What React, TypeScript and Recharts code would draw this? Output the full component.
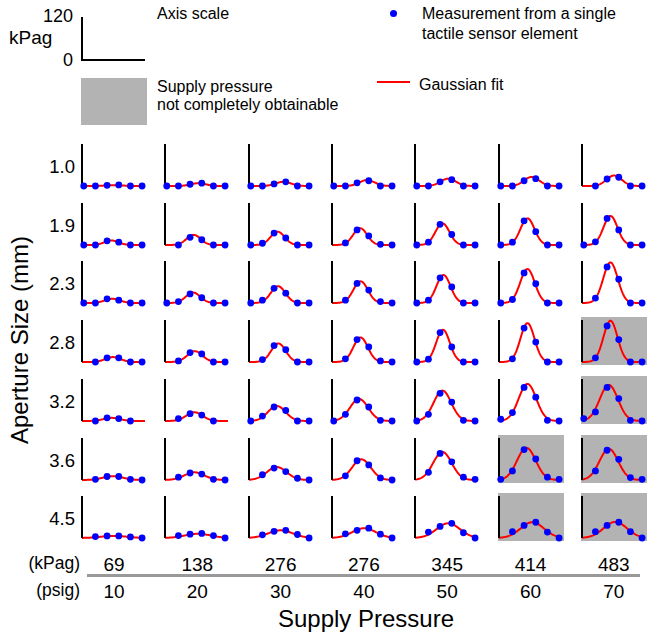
import React from 'react';
import { ComposedChart, CartesianGrid, Line, Scatter, XAxis, YAxis } from 'recharts';

const apertures = ['1.0', '1.9', '2.3', '2.8', '3.2', '3.6', '4.5'];
const kpagLabels = ['69', '138', '276', '276', '345', '414', '483'];
const psigLabels = ['10', '20', '30', '40', '50', '60', '70'];

// readings (kPag) of sensor elements 0..5, one list per supply pressure column
const ap10 = [
  [0, 0, 2, 3, 0, 0], [0, 0, 5, 8, 0, 0], [0, 0, 6, 12, 0, 0], [0, 0, 9, 15, 0, 0],
  [0, 0, 12, 18, 0, 0], [0, 0, 15, 21, 0, 0], [null, 0, 20, 25, 0, 0],
];
const ap19 = [
  [0, 0, 12, 8, 0, 0], [null, 0, 22, 15, 0, 0], [0, 5, 34, 20, 0, 0], [null, 6, 43, 26, 2, 0],
  [0, 8, 59, 30, 0, 0], [0, 8, 69, 38, 0, 0], [0, 9, 76, 43, 0, 0],
];
const ap23 = [
  [0, 0, 12, 8, 0, 0], [0, 4, 26, 15, 0, 0], [0, 8, 42, 28, 0, 0], [null, 8, 56, 37, 4, 0],
  [0, 8, 72, 46, 0, 0], [0, 10, 86, 55, 0, 0], [null, 14, 103, 68, 0, 0],
];
const ap28 = [
  [null, 0, 12, 12, 0, 0], [null, 3, 27, 23, 0, 0], [null, 7, 47, 35, 0, 0], [null, 9, 64, 43, 3, 0],
  [0, 8, 84, 43, 0, 0], [null, 9, 97, 57, 0, 0], [null, 12, 103, 64, 0, 0],
];
const ap32 = [
  [null, 0, 9, 7, 0, null], [null, 7, 21, 17, 0, null], [0, 14, 40, 30, 0, 0], [0, 19, 60, 40, 2, 0],
  [0, 19, 79, 54, 2, 0], [5, 24, 96, 68, 2, 0], [7, 26, 96, 64, 2, 0],
];
const ap36 = [
  [null, 2, 10, 10, 2, 0], [null, 8, 20, 17, 2, 0], [null, 15, 34, 24, 5, 0], [null, 12, 55, 43, 6, 0],
  [null, 22, 76, 52, 8, 2], [2, 26, 87, 60, 8, 2], [null, 26, 85, 59, 7, 2],
];
const ap45 = [
  [null, 4, 6, 6, 3, 0], [null, 7, 11, 13, 7, 0], [null, 9, 19, 22, 10, 0], [null, 12, 22, 28, 11, 0],
  [null, 17, 33, 42, 15, 0], [null, 18, 36, 45, 17, 0], [null, 18, 36, 45, 18, 0],
];
const readings = [ap10, ap19, ap23, ap28, ap32, ap36, ap45];

// gaussian fit parameters: peak (kPag), centre and width (element units)
const fitAmp = [
  [2.5, 8, 12, 17, 21, 26, 30],
  [13, 29, 38, 48, 62, 76, 83],
  [12, 30, 48, 62, 80, 97, 116],
  [14, 31, 53, 70, 92, 111, 118],
  [9, 25, 43, 63, 87, 106, 103],
  [11, 22, 37, 59, 80, 92, 89],
  [6, 12, 22, 28, 42, 45, 46],
];
const fitCenter = [
  [2.6, 2.7, 2.8, 2.85, 2.7, 2.65, 2.6],
  [2.37, 2.3, 2.3, 2.26, 2.2, 2.29, 2.29],
  [2.45, 2.25, 2.34, 2.3, 2.29, 2.29, 2.29],
  [2.5, 2.4, 2.37, 2.3, 2.25, 2.29, 2.29],
  [2.4, 2.37, 2.23, 2.17, 2.2, 2.29, 2.15],
  [2.5, 2.37, 2.23, 2.37, 2.2, 2.2, 2.15],
  [2.6, 2.66, 2.55, 2.6, 2.7, 2.7, 2.7],
];
const fitSigma = [
  [0.7, 0.65, 0.65, 0.65, 0.65, 0.65, 0.65],
  [0.6, 0.6, 0.6, 0.6, 0.6, 0.6, 0.6],
  [0.65, 0.62, 0.62, 0.62, 0.6, 0.62, 0.62],
  [0.65, 0.65, 0.62, 0.62, 0.58, 0.6, 0.6],
  [0.7, 0.7, 0.75, 0.78, 0.75, 0.75, 0.78],
  [0.85, 0.85, 0.85, 0.8, 0.8, 0.8, 0.8],
  [1.1, 1.1, 1.05, 1.0, 1.0, 1.0, 1.0],
];
// [row, col] cells where supply pressure was not completely obtainable
const greyCells = [[3, 6], [4, 6], [5, 5], [5, 6], [6, 5], [6, 6]];

const X0 = -0.15;
const X1 = 5.25;
const AXIS_X0 = 82;
const COL_STEP = 83.3;
const BASE_Y0 = 186;
const ROW_STEP = 58.7;
const FONT = '"Liberation Sans", Arial, sans-serif';

function T({ x, y, size, align = 'left', children, style }: any) {
  const tx = align === 'center' ? '-50%' : align === 'right' ? '-100%' : '0';
  return (
    <div
      style={{
        position: 'absolute', left: x, top: y, fontSize: size, lineHeight: 1,
        whiteSpace: 'nowrap', transform: `translate(${tx}, -50%)`, ...style,
      }}
    >
      {children}
    </div>
  );
}

function Dot(p: any) {
  return <circle cx={p.cx} cy={p.cy} r={3.4} fill="#0000ff" />;
}

function Cell({ pts, amp, mu, sd, axisX, baseY, grey }: any) {
  const fit = [];
  const n = 108;
  for (let k = 0; k <= n; k++) {
    const x = X0 + ((X1 - X0) * k) / n;
    fit.push({ x, y: amp * Math.exp(-((x - mu) ** 2) / (2 * sd * sd)) });
  }
  const dots = pts
    .map((v: number | null, i: number) => (v == null ? null : { x: i, y: v }))
    .filter(Boolean);
  return (
    <>
      {grey && (
        <div
          style={{
            position: 'absolute', left: axisX - 1, top: baseY - 45, width: 66, height: 48,
            background: '#b3b3b3',
          }}
        />
      )}
      <div style={{ position: 'absolute', left: axisX - 3, top: baseY - 50 }}>
        <ComposedChart width={72} height={56} data={fit} margin={{ top: 8, right: 6, bottom: 6, left: 2 }}>
          {/* zero line sits under the fit so the red curve shows along it */}
          <CartesianGrid stroke="#000" strokeWidth={2} strokeDasharray="0" vertical={false} horizontalValues={[0]} />
          <XAxis type="number" dataKey="x" domain={[X0, X1]} hide />
          <YAxis
            type="number" dataKey="y" domain={[0, 120]} width={1} tick={false} tickLine={false}
            axisLine={{ stroke: '#000', strokeWidth: 2 }}
          />
          <Scatter data={dots} dataKey="y" shape={Dot} isAnimationActive={false} />
          <Line dataKey="y" type="linear" stroke="#ff0000" strokeWidth={2} dot={false} isAnimationActive={false} />
        </ComposedChart>
      </div>
    </>
  );
}

export default function App() {
  return (
    <div style={{ position: 'relative', width: 659, height: 632, fontFamily: FONT, color: '#000', background: '#fff' }}>
      <style>{'body{margin:0}'}</style>

      {/* legend */}
      <T x={73} y={16} size={18} align="right">120</T>
      <T x={9} y={37} size={19}>kPag</T>
      <T x={73} y={60} size={18} align="right">0</T>
      <div style={{ position: 'absolute', left: 81, top: 17, width: 2, height: 44, background: '#000' }} />
      <div style={{ position: 'absolute', left: 81, top: 59, width: 64, height: 2, background: '#000' }} />
      <T x={157} y={14} size={16}>Axis scale</T>
      <div style={{ position: 'absolute', left: 389.5, top: 9.5, width: 7, height: 7, borderRadius: 3.5, background: '#0000ff' }} />
      <T x={422} y={14} size={16}>Measurement from a single</T>
      <T x={422} y={34} size={16}>tactile sensor element</T>
      <div style={{ position: 'absolute', left: 81, top: 78, width: 66, height: 47, background: '#b3b3b3' }} />
      <T x={157} y={87} size={16}>Supply pressure</T>
      <T x={157} y={105} size={16}>not completely obtainable</T>
      <div style={{ position: 'absolute', left: 377, top: 81, width: 33, height: 2, background: '#ff0000' }} />
      <T x={419} y={85} size={16}>Gaussian fit</T>

      {/* grid of small charts */}
      {apertures.map((a, r) => (
        <React.Fragment key={a}>
          <T x={75} y={BASE_Y0 + r * ROW_STEP - 19} size={18.5} align="right">{a}</T>
          {readings[r].map((pts, c) => (
            <Cell
              key={c}
              pts={pts}
              amp={fitAmp[r][c]}
              mu={fitCenter[r][c]}
              sd={fitSigma[r][c]}
              axisX={AXIS_X0 + c * COL_STEP}
              baseY={BASE_Y0 + r * ROW_STEP}
              grey={greyCells.some(([gr, gc]) => gr === r && gc === c)}
            />
          ))}
        </React.Fragment>
      ))}

      <T x={20} y={340} size={24} align="center" style={{ transform: 'translate(-50%, -50%) rotate(-90deg)' }}>
        Aperture Size (mm)
      </T>

      {/* supply pressure axis */}
      <T x={80} y={564} size={17.5} align="right">(kPag)</T>
      <T x={80} y={591} size={17.5} align="right">(psig)</T>
      {kpagLabels.map((k, c) => (
        <T key={'k' + c} x={AXIS_X0 + c * COL_STEP + 32} y={564} size={19} align="center">{k}</T>
      ))}
      <div style={{ position: 'absolute', left: 87, top: 574, width: 553, height: 2.5, background: '#999' }} />
      {psigLabels.map((p, c) => (
        <T key={'p' + c} x={AXIS_X0 + c * COL_STEP + 32} y={591} size={19} align="center">{p}</T>
      ))}
      <T x={366} y={619} size={24} align="center">Supply Pressure</T>
    </div>
  );
}
